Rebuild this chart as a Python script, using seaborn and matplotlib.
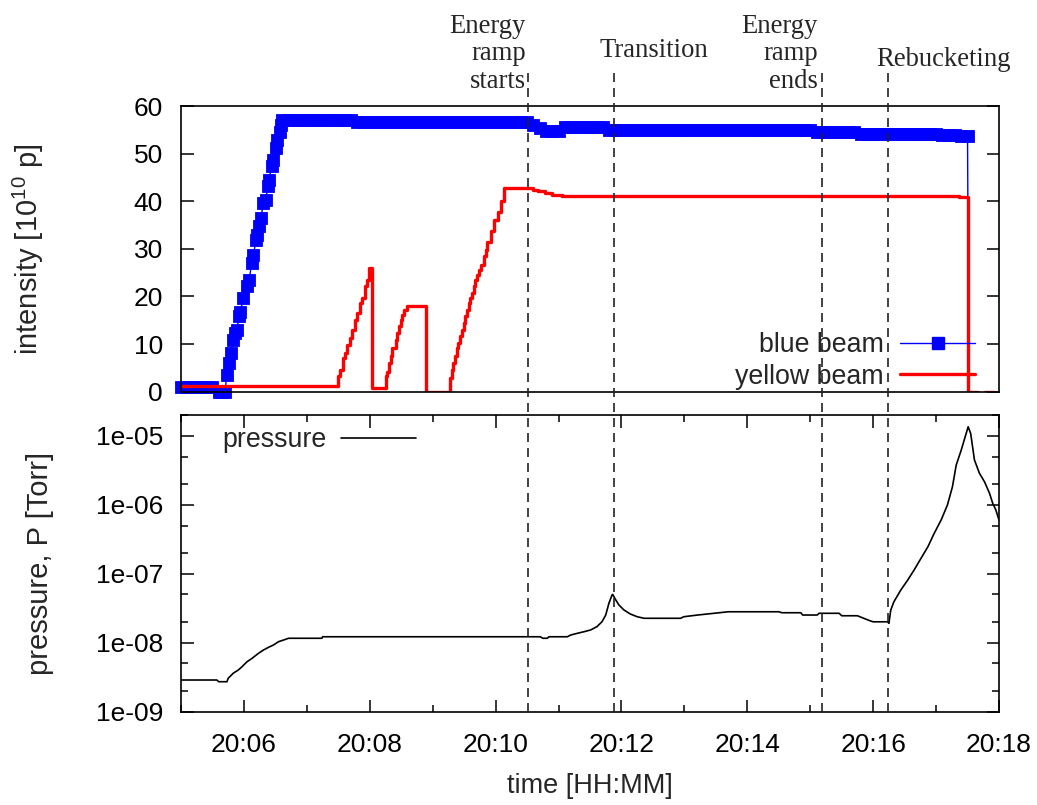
import matplotlib
matplotlib.use("Agg")
import matplotlib.pyplot as plt
import matplotlib.transforms as mtransforms
from matplotlib.lines import Line2D
from matplotlib.ticker import FuncFormatter, MultipleLocator, LogLocator, NullFormatter
import numpy as np
import pandas as pd
import seaborn as sns

# time is given in minutes after 20:00
blue_time = [5.0, 5.1, 5.2, 5.3, 5.4, 5.5, 5.6, 5.65, 5.7,
             5.727, 5.769, 5.796, 5.833, 5.859, 5.886, 5.923, 5.939, 5.992, 6.045,
             6.082, 6.125, 6.151, 6.193, 6.214, 6.246, 6.268, 6.310, 6.348, 6.380,
             6.395, 6.443, 6.469, 6.512, 6.533, 6.575, 6.591, 6.602,
             6.7, 6.8, 6.9, 7.0, 7.1, 7.2, 7.3, 7.4, 7.5, 7.6,
             7.7, 7.8, 7.9, 8.0, 8.1, 8.2, 8.3, 8.4, 8.5, 8.6,
             8.7, 8.8, 8.9, 9.0, 9.1, 9.2, 9.3, 9.4, 9.5, 9.6,
             9.7, 9.8, 9.9, 10.0, 10.1, 10.2, 10.3, 10.4, 10.5, 10.6,
             10.7, 10.8, 10.9, 11.0, 11.1, 11.2, 11.3, 11.4, 11.5, 11.6,
             11.7, 11.8, 11.9, 12.0, 12.1, 12.2, 12.3, 12.4, 12.5, 12.6,
             12.7, 12.8, 12.9, 13.0, 13.1, 13.2, 13.3, 13.4, 13.5, 13.6,
             13.7, 13.8, 13.9, 14.0, 14.1, 14.2, 14.3, 14.4, 14.5, 14.6,
             14.7, 14.8, 14.9, 15.0, 15.1, 15.2, 15.3, 15.4, 15.5, 15.6,
             15.7, 15.8, 15.9, 16.0, 16.1, 16.2, 16.3, 16.4, 16.5, 16.6,
             16.7, 16.8, 16.9, 17.0, 17.1, 17.2, 17.3, 17.4, 17.5,
             17.52]
blue_value = [1.0, 1.0, 1.0, 1.0, 1.0, 1.0, 0.0, 0.0, 0.0,
              3.5, 6.0, 8.1, 10.9, 12.3, 13.0, 15.8, 16.8, 19.6, 22.1,
              23.5, 27.0, 28.7, 31.9, 32.9, 34.7, 36.4, 39.6, 40.3, 43.1,
              44.5, 47.3, 48.7, 51.1, 52.9, 54.6, 56.0, 57.1,
              57.0, 57.0, 57.0, 57.0, 57.0, 57.0, 57.0, 57.0, 57.0, 57.0,
              57.0, 56.6, 56.6, 56.6, 56.6, 56.6, 56.6, 56.6, 56.6, 56.6,
              56.6, 56.6, 56.6, 56.6, 56.6, 56.6, 56.6, 56.6, 56.6, 56.6,
              56.6, 56.6, 56.6, 56.6, 56.6, 56.6, 56.6, 56.6, 56.6, 56.0,
              55.3, 54.8, 54.8, 54.8, 55.5, 55.5, 55.5, 55.5, 55.5, 55.5,
              55.5, 55.0, 55.0, 55.0, 55.0, 55.0, 55.0, 55.0, 55.0, 55.0,
              55.0, 55.0, 55.0, 55.0, 55.0, 55.0, 55.0, 55.0, 55.0, 55.0,
              55.0, 55.0, 55.0, 55.0, 55.0, 55.0, 55.0, 55.0, 55.0, 55.0,
              55.0, 55.0, 55.0, 55.0, 54.5, 54.5, 54.5, 54.5, 54.5, 54.5,
              54.5, 54.2, 54.2, 54.2, 54.2, 54.2, 54.2, 54.2, 54.2, 54.2,
              54.2, 54.2, 54.2, 54.2, 54.0, 54.0, 54.0, 53.6, 53.6,
              0.0]

red_time = [5.0, 7.50, 7.53, 7.58, 7.61, 7.64, 7.69, 7.72, 7.77, 7.80, 7.85, 7.88,
            7.93, 7.95, 7.99, 8.03, 8.25, 8.27, 8.30, 8.33, 8.35, 8.41, 8.43, 8.46,
            8.49, 8.51, 8.54, 8.59, 8.90, 9.28, 9.31, 9.33, 9.36, 9.39, 9.41, 9.44,
            9.47, 9.49, 9.52, 9.55, 9.57, 9.60, 9.63, 9.65, 9.68, 9.70, 9.73, 9.76,
            9.81, 9.84, 9.87, 9.92, 9.97, 10.03, 10.08, 10.13, 10.60, 10.67, 10.78,
            10.90, 11.05, 17.37, 17.50, 17.66,
            17.78, 17.92]
red_value = [1.1, 3.2, 4.6, 7.0, 8.1, 9.8, 11.2, 13.0, 15.1, 16.5, 18.6, 19.6,
             22.1, 23.5, 25.9, 0.8, 3.2, 4.2, 6.0, 7.4, 9.1, 10.9, 12.3, 13.7,
             15.1, 16.1, 17.2, 17.9, 0.0, 2.8, 4.6, 6.0, 7.4, 9.1, 10.2, 11.6,
             13.0, 14.4, 15.8, 17.2, 18.6, 19.6, 20.7, 22.1, 23.5, 24.5, 25.6, 26.6,
             28.4, 29.8, 31.4, 33.8, 36.0, 37.8, 40.0, 42.7, 42.4, 42.1, 41.7,
             41.4, 41.2, 40.9, 0.0, 0.0,
             0.0, 0.0]
red_piece = [0] * 64 + [1, 1]

pressure_time = [5.00, 5.57, 5.60, 5.73, 5.75, 5.83, 5.91, 5.97, 6.05, 6.13, 6.23,
                 6.31, 6.39, 6.47, 6.55, 6.63, 6.71, 7.24, 7.25, 10.71, 10.75,
                 10.82, 10.85, 11.14, 11.19, 11.30, 11.40, 11.51, 11.61, 11.69,
                 11.75, 11.80, 11.85, 11.86, 11.91, 11.96, 12.04, 12.14, 12.25,
                 12.36, 12.94, 12.99, 13.21, 13.47, 13.70, 14.50, 14.55, 14.85,
                 14.88, 15.11, 15.14, 15.46, 15.50, 15.75, 15.85, 15.95, 16.00,
                 16.23, 16.25, 16.28, 16.33, 16.44, 16.55, 16.65, 16.76, 16.87,
                 16.97, 17.08, 17.18, 17.26, 17.32, 17.40, 17.47, 17.51, 17.55,
                 17.61, 17.69, 17.77, 17.85, 17.90, 17.95, 18.00]
pressure_value = [2.88e-9, 2.88e-9, 2.72e-9, 2.72e-9, 3.05e-9, 3.61e-9, 4.02e-9,
                  4.49e-9, 5.31e-9, 5.94e-9, 7.01e-9, 7.83e-9, 8.57e-9, 9.27e-9,
                  1.035e-8, 1.094e-8, 1.16e-8, 1.16e-8, 1.22e-8, 1.22e-8, 1.16e-8,
                  1.16e-8, 1.22e-8, 1.22e-8, 1.29e-8, 1.37e-8, 1.44e-8, 1.53e-8,
                  1.71e-8, 2.01e-8, 2.52e-8, 3.72e-8, 4.91e-8, 5.02e-8, 4.16e-8,
                  3.52e-8, 2.98e-8, 2.61e-8, 2.38e-8, 2.26e-8, 2.26e-8, 2.38e-8,
                  2.52e-8, 2.67e-8, 2.81e-8, 2.81e-8, 2.72e-8, 2.72e-8, 2.52e-8,
                  2.52e-8, 2.67e-8, 2.67e-8, 2.46e-8, 2.46e-8, 2.26e-8, 2.08e-8,
                  2.01e-8, 2.01e-8, 1.91e-8, 2.98e-8, 3.93e-8, 5.81e-8, 8.11e-8,
                  1.13e-7, 1.67e-7, 2.46e-7, 3.85e-7, 6.0e-7, 9.9e-7, 1.82e-6,
                  3.76e-6, 6.21e-6, 1.02e-5, 1.35e-5, 1.08e-5, 4.45e-6, 2.85e-6,
                  2.15e-6, 1.46e-6, 1.05e-6, 8.4e-7, 6.0e-7]

event_time = [10.52, 11.88, 15.18, 16.24]
event_label = ["Energy\nramp\nstarts", "Transition", "Energy\nramp\nends", "Rebucketing"]

sns.set_theme(style="ticks")
plt.rcParams["font.family"] = ["Liberation Sans", "DejaVu Sans"]
plt.rcParams["mathtext.fontset"] = "custom"
plt.rcParams["mathtext.rm"] = "Liberation Sans"
plt.rcParams["mathtext.it"] = "Liberation Sans:italic"

W, H = 1037, 805
fig = plt.figure(figsize=(W / 100, H / 100), dpi=100)


def box(left, top, right, bottom):
    # pixel box -> figure fraction
    return [left / W, 1 - bottom / H, (right - left) / W, (bottom - top) / H]


ax1 = fig.add_axes(box(181, 106, 999, 391.7))
ax2 = fig.add_axes(box(181, 415, 999, 711.7))

BLUE = "#0000ff"
RED = "#ff0000"

# top panel: beam intensities
blue_df = pd.DataFrame({"t": blue_time, "v": blue_value})
sns.lineplot(data=blue_df, x="t", y="v", ax=ax1, color=BLUE, lw=1.0,
             marker="s", markersize=8.5, markeredgecolor=BLUE, markeredgewidth=0.6,
             markevery=slice(0, len(blue_time) - 1), sort=False, estimator=None,
             clip_on=False, legend=False)
red_df = pd.DataFrame({"t": red_time, "v": red_value, "piece": red_piece})
sns.lineplot(data=red_df, x="t", y="v", units="piece", ax=ax1, color=RED, lw=2.4,
             drawstyle="steps-post", sort=False, estimator=None, legend=False)

ax1.set_xlim(5, 18)
ax1.set_ylim(0, 60)
ax1.set_yticks(range(0, 61, 10))
ax1.set_xlabel("")
ax1.set_ylabel(r"intensity [$10^{10}$ p]", fontsize=21)
ax1.yaxis.set_label_coords(-0.165, 0.5)
ax1.tick_params(axis="y", direction="in", length=9, width=1.1, left=True, right=True,
                labelsize=19, pad=13, colors="black")
ax1.tick_params(axis="x", bottom=False, labelbottom=False)

h_blue = Line2D([], [], color=BLUE, lw=1.0, marker="s", markersize=8.5,
                markeredgecolor=BLUE)
h_red = Line2D([], [], color=RED, lw=2.4)
ax1.legend([h_blue, h_red], ["blue beam", "yellow beam"], loc="center right",
           bbox_to_anchor=(0.9707, 0.1075), frameon=False, markerfirst=False,
           handlelength=2.8, handletextpad=0.6, labelspacing=0.2, borderpad=0,
           borderaxespad=0, fontsize=19.3, numpoints=1)

# bottom panel: pressure
ax2.set_yscale("log")
sns.lineplot(x=pressure_time, y=pressure_value, ax=ax2, color="black", lw=1.2,
             sort=False, estimator=None)
ax2.set_xlim(5, 18)
ax2.set_ylim(1e-9, 2e-5)
ax2.patch.set_visible(False)
ax2.xaxis.set_major_locator(MultipleLocator(2))
ax2.xaxis.set_minor_locator(MultipleLocator(1))
ax2.xaxis.set_major_formatter(FuncFormatter(lambda m, pos: f"20:{int(round(m)):02d}"))
ax2.yaxis.set_major_locator(LogLocator(base=10, numticks=20))
ax2.yaxis.set_minor_locator(LogLocator(base=10, subs=(2, 5), numticks=20))
ax2.yaxis.set_minor_formatter(NullFormatter())
ax2.yaxis.set_major_formatter(
    FuncFormatter(lambda v, pos: f"1e-{-int(round(np.log10(v))):02d}"))
ax2.tick_params(axis="both", which="both", direction="in", top=True, right=True,
                colors="black", width=1.1)
ax2.tick_params(axis="both", which="major", length=9, labelsize=19)
ax2.tick_params(axis="both", which="minor", length=5)
ax2.tick_params(axis="x", which="major", pad=15)
ax2.tick_params(axis="y", which="major", pad=13)
ax2.set_xlabel("time [HH:MM]", fontsize=19.5)
ax2.xaxis.set_label_coords(0.5, -0.205)
ax2.set_ylabel("pressure, P [Torr]", fontsize=21)
ax2.yaxis.set_label_coords(-0.155, 0.5)

h_p = Line2D([], [], color="black", lw=1.2)
ax2.legend([h_p], ["pressure"], loc="center left", bbox_to_anchor=(0.050, 0.9157),
           frameon=False, markerfirst=False, handlelength=2.8, handletextpad=0.55,
           borderpad=0, borderaxespad=0, fontsize=19.3)

for ax in (ax1, ax2):
    for sp in ax.spines.values():
        sp.set_visible(True)
        sp.set_linewidth(1.2)
        sp.set_color("black")

# dashed event markers, running through both panels
trans = mtransforms.blended_transform_factory(ax2.transData, fig.transFigure)
for t in event_time:
    fig.add_artist(Line2D([t, t], [1 - 711.7 / H, 1 - 67 / H], transform=trans,
                          color="#222222", lw=1.2, dashes=(5.4, 3.6)))

serif = ["Liberation Serif", "DejaVu Serif"]
fig.text(526 / W, 1 - 14 / H, event_label[0], ha="right", va="top", ma="right",
         family=serif, fontsize=19.2, linespacing=1.12)
fig.text(600 / W, 1 - 57 / H, event_label[1], ha="left", va="baseline",
         family=serif, fontsize=19.2)
fig.text(818 / W, 1 - 14 / H, event_label[2], ha="right", va="top", ma="right",
         family=serif, fontsize=19.2, linespacing=1.12)
fig.text(876 / W, 1 - 66 / H, event_label[3], ha="left", va="baseline",
         family=serif, fontsize=19.2)

fig.savefig("out.png", dpi=100)
